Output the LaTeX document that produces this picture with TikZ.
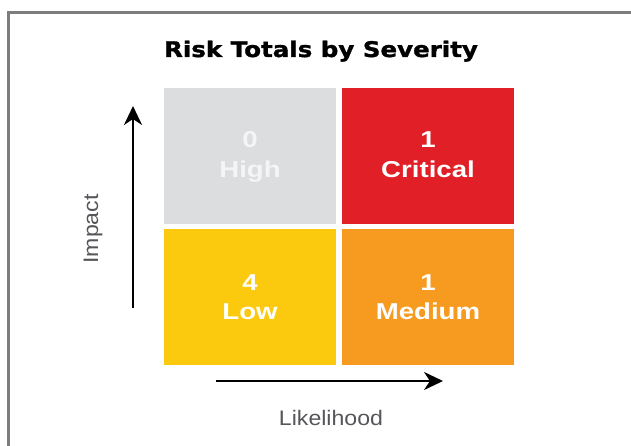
\documentclass[tikz,border=0pt]{standalone}
\usepackage{fontspec}
\setmainfont{Liberation Sans}
\newfontfamily\titlefont[FakeStretch=1.14, FakeBold=1.4]{DejaVu Sans Bold}
\newfontfamily\boxfont[FakeStretch=1.2]{Liberation Sans}
\newfontfamily\axisfont[FakeStretch=1.1]{Liberation Sans}
\usetikzlibrary{arrows.meta}
\definecolor{framegray}{RGB}{125,125,125}
\definecolor{cellgray}{RGB}{220,221,222}
\definecolor{cellred}{RGB}{224,31,38}
\definecolor{cellyellow}{RGB}{251,201,14}
\definecolor{cellorange}{RGB}{247,155,32}
\definecolor{axistext}{RGB}{85,85,90}
\tikzset{
  cell/.style={draw=none, minimum width=172pt, minimum height=136pt, inner sep=0pt},
  numtext/.style={anchor=base, text=white, inner sep=0pt, font=\boxfont\bfseries\fontsize{23}{23}\selectfont},
  lbltext/.style={anchor=base, text=white, inner sep=0pt, font=\boxfont\bfseries\fontsize{23}{23}\selectfont},
  axisarrow/.style={line width=2.6pt, black, -{Stealth[length=19pt, width=18pt, inset=6pt]}},
  axislabel/.style={text=axistext, inner sep=0pt, font=\axisfont\fontsize{21}{21}\selectfont}
}
\begin{document}
\begin{tikzpicture}[x=1pt, y=-1pt]
\useasboundingbox (0,0) rectangle (631,446);
% frame
\draw[framegray, line width=3pt] (8,460) -- (8,13) -- (640,13);
% title
\node[anchor=base, inner sep=0pt, font=\titlefont\fontsize{21.5}{21.5}\selectfont] (title) at (321,57) {Risk Totals by Severity};
% cells
\node[cell, fill=cellgray] (high) at (250,156) {};
\node[cell, fill=cellred] (crit) at (428,156) {};
\node[cell, fill=cellyellow] (low) at (250,297) {};
\node[cell, fill=cellorange] (med) at (428,297) {};
% cell texts
\node[numtext, text=white!96!black] (highn) at (250,148) {0};
\node[lbltext, text=white!96!black] (highl) at (250,178) {High};
\node[numtext] (critn) at (428,148) {1};
\node[lbltext] (critl) at (428,178) {Critical};
\node[numtext] (lown) at (250,290) {4};
\node[lbltext] (lowl) at (250,319) {Low};
\node[numtext] (medn) at (428,290) {1};
\node[lbltext] (medl) at (428,319) {Medium};
% axes
\coordinate (vfrom) at (133,308);
\coordinate (vto) at (133,106);
\coordinate (hfrom) at (216,381);
\coordinate (hto) at (443,381);
\draw[axisarrow] (vfrom) -- (vto);
\draw[axisarrow] (hfrom) -- (hto);
\node[axislabel, rotate=90] (impact) at (93,229) {Impact};
\node[axislabel, anchor=base] (likely) at (331,425) {Likelihood};
\end{tikzpicture}
\end{document}
